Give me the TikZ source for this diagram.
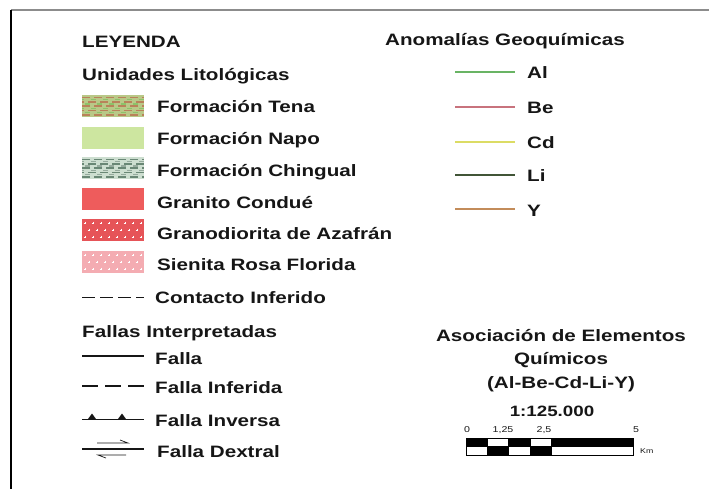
\documentclass[tikz,border=0pt]{standalone}
\usepackage{fontspec}
\setmainfont{Liberation Sans}[FakeStretch=1.25]
\definecolor{legendink}{RGB}{22, 22, 22}
\definecolor{framegray}{RGB}{140, 140, 140}
\definecolor{tenabg}{RGB}{185, 200, 135}
\definecolor{tenabrown}{RGB}{185, 130, 90}
\definecolor{tenagreen}{RGB}{140, 195, 105}
\definecolor{napocol}{RGB}{205, 230, 160}
\definecolor{chingualbg}{RGB}{205, 222, 208}
\definecolor{chingualdash}{RGB}{105, 135, 117}
\definecolor{condue}{RGB}{238, 92, 92}
\definecolor{azafran}{RGB}{230, 84, 88}
\definecolor{sienita}{RGB}{244, 172, 178}
\definecolor{alcol}{RGB}{105, 180, 100}
\definecolor{becol}{RGB}{200, 115, 125}
\definecolor{cdcol}{RGB}{220, 220, 100}
\definecolor{licol}{RGB}{65, 85, 55}
\definecolor{ycol}{RGB}{195, 140, 90}
\usetikzlibrary{positioning}

\begin{document}
\begin{tikzpicture}[x=1pt, y=-1pt,
    lbl/.style={anchor=base west, inner sep=0pt, text=legendink, font=\bfseries\fontsize{16.5}{19}\selectfont},
    title/.style={anchor=base, inner sep=0pt, text=legendink, font=\bfseries\fontsize{16.5}{19}\selectfont},
    small/.style={anchor=base, inner sep=0pt, text=legendink, font=\fontsize{8.5}{10}\selectfont},
    unitbox/.style={draw=none, rectangle, minimum width=62pt, minimum height=22pt, inner sep=0pt},
    dashrows/.style 2 args={path picture={
        \foreach \r/\ph in {0/0,1/6,2/0,3/6,4/0}
          \draw[#1, line width=1.5pt, dash pattern=on 8pt off 4pt, dash phase=\ph pt]
            ([yshift=-2.4pt-4.4pt*\r]path picture bounding box.north west) --
            ([yshift=-2.4pt-4.4pt*\r]path picture bounding box.north east);
        \foreach \r/\ph in {0/3,1/9,2/3,3/9}
          \draw[#2, line width=1.2pt, dash pattern=on 5pt off 7pt, dash phase=\ph pt]
            ([yshift=-4.6pt-4.4pt*\r]path picture bounding box.north west) --
            ([yshift=-4.6pt-4.4pt*\r]path picture bounding box.north east);
    }},
    crosses/.style={path picture={
        \foreach \i in {0,...,7}
          \foreach \j/\dx in {0/0,1/4,2/0}
            \draw[white, line width=0.8pt]
              ([shift={(3+8*\i+\dx,4+7*\j)}]path picture bounding box.north west) ++(-1.4,0) -- ++(2.8,0)
              ++(-1.4,-1.4) -- ++(0,2.8);
    }},
    elemline/.style={line width=1.3pt}
  ]
  \useasboundingbox (0,0) rectangle (709,489);

  % frame
  \draw[framegray, line width=1.5pt] (11,10) -- (709,10);
  \draw[black, line width=1.5pt] (11,10) -- (11,489);

  % titles
  \node[lbl] (leyenda) at (82,48) {LEYENDA};
  \node[lbl] (unidades) at (82,81) {Unidades Litológicas};
  \node[lbl] (anomalias) at (385,46) {Anomalías Geoquímicas};

  % lithological units
  \node[unitbox, fill=tenabg, dashrows={tenabrown}{tenagreen}] (tena) at (113,106) {};
  \node[lbl] (tenalbl) at (157,113) {Formación Tena};
  \node[unitbox, fill=napocol] (napo) at (113,138) {};
  \node[lbl] (napolbl) at (157,145) {Formación Napo};
  \node[unitbox, fill=chingualbg, dashrows={chingualdash}{chingualdash!70}] (chingual) at (113,168) {};
  \node[lbl] (chingualbl) at (157,177) {Formación Chingual};
  \node[unitbox, fill=condue] (condue) at (113,199) {};
  \node[lbl] (conduelbl) at (157,208) {Granito Condué};
  \node[unitbox, fill=azafran, crosses] (azafran) at (113,230) {};
  \node[lbl] (azafranlbl) at (157,239) {Granodiorita de Azafrán};
  \node[unitbox, fill=sienita, crosses] (sienita) at (113,262) {};
  \node[lbl] (sienitalbl) at (157,270) {Sienita Rosa Florida};
  \draw[legendink, line width=1pt, dash pattern=on 13pt off 5pt] (82,297) -- (144,297);
  \node[lbl] (contactolbl) at (155,303) {Contacto Inferido};

  % faults
  \node[lbl] (fallas) at (82,337) {Fallas Interpretadas};
  \draw[legendink, line width=2pt] (82,356) -- (144,356);
  \node[lbl] (fallalbl) at (155,364) {Falla};
  \draw[legendink, line width=2pt, dash pattern=on 16pt off 7pt] (82,386) -- (144,386);
  \node[lbl] (inferidalbl) at (155,393) {Falla Inferida};
  \draw[legendink, line width=1pt] (82,419) -- (144,419);
  \fill[legendink] (88,419) -- (92,413.5) -- (96,419) -- cycle;
  \fill[legendink] (118,419) -- (122,413.5) -- (126,419) -- cycle;
  \node[lbl] (inversalbl) at (155,426) {Falla Inversa};
  \draw[legendink, line width=1.8pt] (82,449) -- (144,449);
  \draw[legendink, line width=0.7pt] (97,443) -- (128,443) -- (120,440);
  \draw[legendink, line width=0.7pt] (126,455) -- (98,455) -- (106,458);
  \node[lbl] (dextrallbl) at (157,457) {Falla Dextral};

  % geochemical anomalies
  \foreach \y/\c/\t/\n in {72/alcol/Al/al, 107/becol/Be/be, 142/cdcol/Cd/cd, 175/licol/Li/li, 209/ycol/Y/y} {
    \draw[elemline, color=\c] (455,\y) -- (515,\y);
    \node[lbl] (\n lbl) at (527,\y+7) {\t};
  }

  % association and scale
  \node[title] (asoc1) at (561,341) {Asociación de Elementos};
  \node[title] (asoc2) at (561,364) {Químicos};
  \node[title] (asoc3) at (561,388) {(Al-Be-Cd-Li-Y)};
  \node[title, font=\bfseries\fontsize{15}{18}\selectfont] (escala) at (552,416) {1:125.000};
  \foreach \a/\b/\t/\u in {466/487/black/white, 487/508/white/black, 508/530/black/white, 530/551/white/black, 551/633/black/white} {
    \filldraw[fill=\t, draw=black, line width=0.7pt] (\a,438) rectangle (\b,446.5);
    \filldraw[fill=\u, draw=black, line width=0.7pt] (\a,446.5) rectangle (\b,455);
  }
  \node[small] (sc0) at (467,432) {0};
  \node[small] (sc1) at (503,432) {1,25};
  \node[small] (sc2) at (544,432) {2,5};
  \node[small] (sc5) at (636,432) {5};
  \node[small, anchor=base west, font=\fontsize{7}{8}\selectfont] (km) at (640,453) {Km};
\end{tikzpicture}
\end{document}
